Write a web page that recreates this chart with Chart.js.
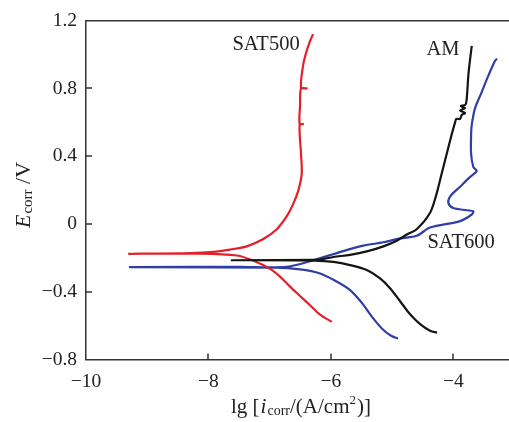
<!DOCTYPE html>
<html>
<head>
<meta charset="utf-8">
<script src="https://cdn.jsdelivr.net/npm/chart.js@4.4.1/dist/chart.umd.min.js"></script>
<style>
  html, body { margin: 0; padding: 0; background: #fff; }
  #wrap { width: 509px; height: 422px; position: relative; }
</style>
</head>
<body>
<div id="wrap"><canvas id="c" width="509" height="422"></canvas></div>
<script>
// Tick values of the two axes
const xTicks = [-10, -8, -6, -4];
const yTicks = [-0.8, -0.4, 0, 0.4, 0.8, 1.2];

// Polarization curves: lg(i) and E, traced from the cathodic end
// through the corrosion potential out to the anodic end.
const amX = [-4.265, -4.379, -4.542, -4.706, -4.869, -5.033, -5.196, -5.413, -5.686, -5.959, -6.258, -7.619,
             -6.30, -6.144, -5.959, -5.686, -5.413, -5.142, -4.923, -4.76, -4.598, -4.379, -4.271, -4.19,
             -4.108, -4.026, -3.971, -3.95, -3.889, -3.861, -3.807, -3.889, -3.807, -3.88, -3.80, -3.78,
             -3.754, -3.725, -3.698];
const amY = [-0.642, -0.630, -0.591, -0.533, -0.456, -0.379, -0.321, -0.272, -0.243, -0.224, -0.216, -0.214,
             -0.212, -0.208, -0.195, -0.182, -0.162, -0.132, -0.099, -0.062, -0.031, 0.066, 0.181, 0.297,
             0.413, 0.529, 0.600, 0.620, 0.620, 0.645, 0.655, 0.670, 0.684, 0.695, 0.705, 0.742,
             0.877, 0.974, 1.051];

const sat500X = [-5.985, -6.176, -6.34, -6.503, -6.667, -6.83, -6.993, -7.271, -7.533, -8.137, -9.297,
                 -8.30, -7.925, -7.647, -7.374, -7.103, -6.884, -6.72, -6.61, -6.53, -6.476, -6.487,
                 -6.511, -6.454, -6.511, -6.503, -6.487, -6.395, -6.487, -6.454, -6.405, -6.34, -6.291];
const sat500Y = [-0.578, -0.535, -0.480, -0.425, -0.370, -0.311, -0.265, -0.216, -0.186, -0.175, -0.176,
                 -0.172, -0.165, -0.151, -0.132, -0.089, -0.031, 0.046, 0.123, 0.200, 0.297, 0.410,
                 0.587, 0.590, 0.593, 0.700, 0.800, 0.800, 0.805, 0.935, 1.010, 1.080, 1.120];

const sat600X = [-4.902, -5.016, -5.163, -5.327, -5.49, -5.686, -5.931, -6.176, -6.503, -6.9, -9.281,
                 -7.5, -6.722, -6.286, -5.85, -5.469, -5.142, -4.869, -4.598, -4.379, -3.889, -3.698,
                 -3.672, -3.781, -4.0, -4.08, -4.052, -3.889, -3.725, -3.616, -3.672, -3.709, -3.709,
                 -3.698, -3.644, -3.534, -3.426, -3.317, -3.284];
const sat600Y = [-0.676, -0.660, -0.618, -0.548, -0.467, -0.390, -0.335, -0.292, -0.268, -0.258, -0.255,
                 -0.253, -0.253, -0.214, -0.166, -0.128, -0.108, -0.085, -0.07, -0.021, 0.017, 0.056,
                 0.075, 0.081, 0.094, 0.123, 0.162, 0.220, 0.278, 0.313, 0.336, 0.413, 0.529,
                 0.587, 0.684, 0.780, 0.877, 0.964, 0.975];

const seriesNames = ['AM', 'SAT500', 'SAT600'];
const seriesColors = ['#141414', '#e3202a', '#2f3fa6'];
// Where each curve's name is written (data coordinates)
const labelX = [-4.167, -7.059, -3.873];
const labelY = [1.03, 1.057, -0.11];

const pts = (xs, ys) => xs.map((x, i) => ({ x, y: ys[i] }));
const serif = '"Liberation Serif", "DejaVu Serif", serif';
const ink = '#222';

function fmt(v) {
  const s = String(Math.round(v * 10) / 10);
  return s.replace('-', '\u2212');
}

// Draws a run of text pieces (different style/size/baseline shift) centred at (cx, cy)
function richText(ctx, pieces, cx, cy) {
  let total = 0;
  for (const p of pieces) {
    ctx.font = `${p.italic ? 'italic ' : ''}${p.size}px ${serif}`;
    p.w = ctx.measureText(p.text).width + (p.gap || 0);
    total += p.w;
  }
  let x = cx - total / 2;
  ctx.textBaseline = 'middle';
  ctx.textAlign = 'left';
  for (const p of pieces) {
    ctx.font = `${p.italic ? 'italic ' : ''}${p.size}px ${serif}`;
    ctx.fillText(p.text, x, cy + (p.dy || 0));
    x += p.w;
  }
}

const decorations = {
  id: 'decorations',
  afterDraw(chart) {
    const { ctx, chartArea: a, scales: { x, y } } = chart;
    ctx.save();
    ctx.strokeStyle = '#333';
    ctx.lineWidth = 1.5;
    // top frame line
    ctx.beginPath();
    ctx.moveTo(a.left, a.top);
    ctx.lineTo(a.right, a.top);
    ctx.stroke();
    // inward tick marks
    ctx.beginPath();
    for (const t of x.ticks) {
      const px = Math.round(x.getPixelForValue(t.value));
      if (px <= a.left + 1) continue;
      ctx.moveTo(px, a.bottom);
      ctx.lineTo(px, a.bottom - 6);
    }
    for (const t of y.ticks) {
      const py = Math.round(y.getPixelForValue(t.value));
      if (py <= a.top + 1 || py >= a.bottom - 1) continue;
      ctx.moveTo(a.left, py);
      ctx.lineTo(a.left + 6, py);
    }
    ctx.stroke();

    // curve names
    ctx.fillStyle = ink;
    ctx.font = `20.5px ${serif}`;
    ctx.textAlign = 'center';
    ctx.textBaseline = 'middle';
    seriesNames.forEach((n, i) => {
      ctx.fillText(n, x.getPixelForValue(labelX[i]), y.getPixelForValue(labelY[i]));
    });

    // axis titles
    richText(ctx, [
      { text: 'lg [', size: 21, gap: 1 },
      { text: 'i', size: 21, italic: true, gap: 1 },
      { text: 'corr', size: 14, dy: 4 },
      { text: '/(A/cm', size: 21 },
      { text: '2', size: 13, dy: -6, gap: 1 },
      { text: ')]', size: 21 }
    ], 301, 407);

    ctx.translate(24, 195);
    ctx.rotate(-Math.PI / 2);
    richText(ctx, [
      { text: 'E', size: 22, italic: true, gap: 1 },
      { text: 'corr', size: 15, dy: 4 },
      { text: ' /V', size: 22 }
    ], 0, 0);
    ctx.restore();
  }
};

const datasets = [
  { data: pts(amX, amY) },
  { data: pts(sat500X, sat500Y) },
  { data: pts(sat600X, sat600Y) }
].map((d, i) => Object.assign(d, {
  label: seriesNames[i],
  borderColor: seriesColors[i],
  backgroundColor: seriesColors[i],
  borderWidth: 2.2,
  showLine: true,
  pointRadius: 0,
  tension: 0.3,
  fill: false
}));

new Chart(document.getElementById('c'), {
  type: 'scatter',
  data: { datasets },
  options: {
    responsive: false,
    animation: false,
    layout: { padding: { top: 14, right: 0, left: 0, bottom: 0 } },
    plugins: { legend: { display: false }, tooltip: { enabled: false } },
    scales: {
      x: {
        type: 'linear',
        min: -10,
        max: -3.09,
        afterBuildTicks: s => { s.ticks = xTicks.map(v => ({ value: v })); },
        afterFit: s => { s.height = 62.5; },
        grid: { display: false, drawTicks: false },
        border: { display: true, color: '#333', width: 1.5 },
        ticks: { color: ink, font: { family: serif, size: 19.5 }, padding: 11, maxRotation: 0, callback: v => fmt(v) }
      },
      y: {
        type: 'linear',
        min: -0.8,
        max: 1.2,
        afterBuildTicks: s => { s.ticks = yTicks.map(v => ({ value: v })); },
        afterFit: s => { s.width = 86; },
        grid: { display: false, drawTicks: false },
        border: { display: true, color: '#333', width: 1.5 },
        ticks: { color: ink, font: { family: serif, size: 19.5 }, padding: 9, callback: v => fmt(v) }
      }
    }
  },
  plugins: [decorations]
});
</script>
</body>
</html>
